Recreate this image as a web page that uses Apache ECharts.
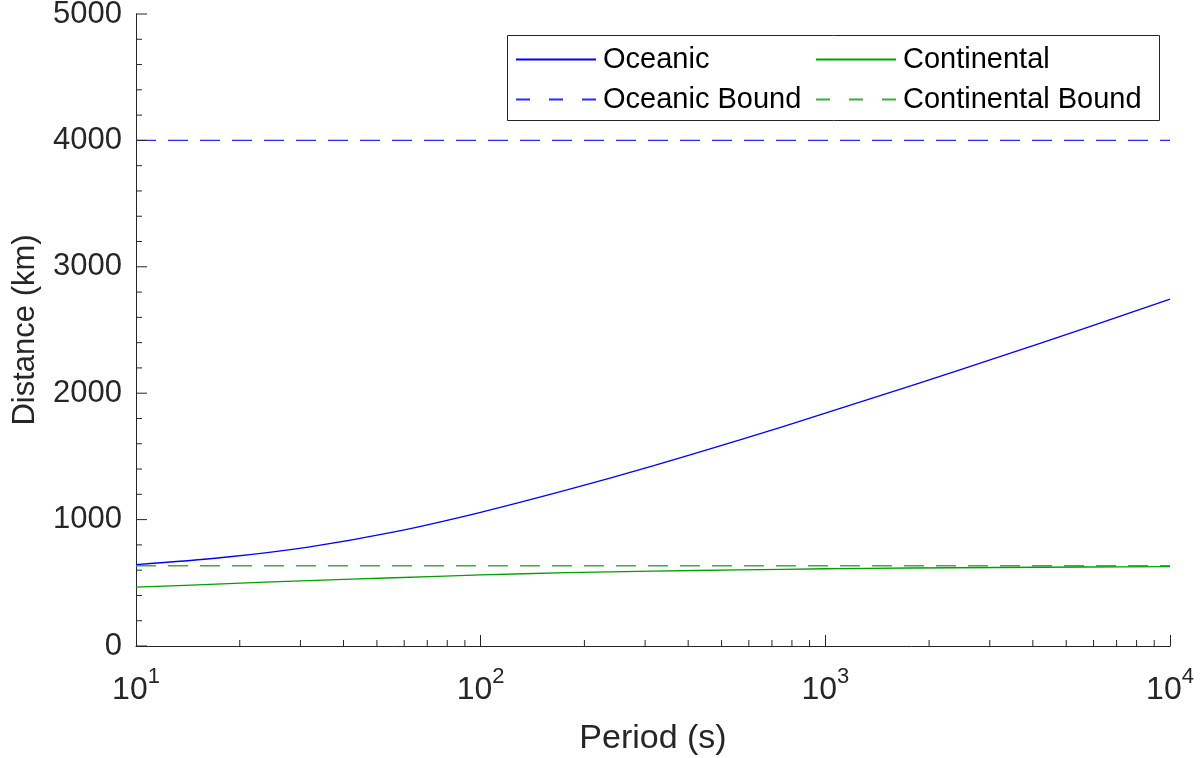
<!DOCTYPE html>
<html>
<head>
<meta charset="utf-8">
<script src="https://cdn.jsdelivr.net/npm/echarts@6/dist/echarts.min.js"></script>
<style>
  html, body { margin: 0; padding: 0; background: #fff; }
  #chart { width: 1202px; height: 758px; }
</style>
</head>
<body>
<div id="chart"></div>
<script>
// Period samples (s), quarter-decade steps
const periods = [10, 17.8, 31.6, 56.2, 100, 178, 316, 562, 1000, 1778, 3162, 5623, 10000];
// Distance (km) for oceanic and continental paths
const oceanic = [643, 700, 783, 903, 1058, 1235, 1425, 1628, 1842, 2060, 2283, 2511, 2745];
const continental = [465, 492, 518, 540, 562, 580, 592, 602, 611, 617, 621, 625, 628];
// Upper bounds, drawn across the full period range
const boundPeriods = [10, 10000];
const oceanicBound = [4000, 4000];
const continentalBound = [635, 635];
// Tick positions: minor ticks on the log period axis, major/minor on the distance axis
const xMinorTicks = [20, 30, 40, 50, 60, 70, 80, 90,
                     200, 300, 400, 500, 600, 700, 800, 900,
                     2000, 3000, 4000, 5000, 6000, 7000, 8000, 9000];
const yMajorTicks = [0, 1000, 2000, 3000, 4000, 5000];
const yMinorTicks = [200, 400, 600, 800, 1200, 1400, 1600, 1800, 2200, 2400, 2600, 2800,
                     3200, 3400, 3600, 3800, 4200, 4400, 4600, 4800];

const axisColor = '#262626';
const font = '"Liberation Sans", Arial, Helvetica, sans-serif';
const dashPlot = [20, 12];
const dashLegend = [14, 19];
const xMin = 10;

const pairs = (xs, ys) => xs.map((x, i) => [x, ys[i]]);

// short inward tick marks drawn from axis values
function tickSeries(data, dx, dy) {
  return {
    type: 'custom',
    silent: true,
    clip: false,
    z: 5,
    data: data,
    renderItem: (params, api) => {
      const p = api.coord([api.value(0), api.value(1)]);
      return {
        type: 'line',
        shape: { x1: p[0], y1: p[1], x2: p[0] + dx, y2: p[1] + dy },
        style: { stroke: axisColor, lineWidth: 1 }
      };
    }
  };
}

const legendBase = {
  orient: 'vertical',
  top: 43,
  padding: 0,
  itemGap: 7,
  itemWidth: 80,
  itemHeight: 2,
  selectedMode: false,
  itemStyle: { opacity: 0 },
  textStyle: { fontFamily: font, fontSize: 29, color: '#000', lineHeight: 33, padding: [0, 0, 0, 2] }
};

const chart = echarts.init(document.getElementById('chart'), null, { renderer: 'canvas' });

chart.setOption({
  animation: false,
  backgroundColor: '#ffffff',
  textStyle: { fontFamily: font },
  grid: { left: 136, right: 32, top: 14, bottom: 112, containLabel: false, outerBoundsMode: 'none' },
  graphic: [{
    type: 'rect',
    z: 0,
    silent: true,
    shape: { x: 507.5, y: 35.5, width: 652, height: 85 },
    style: { fill: '#ffffff', stroke: axisColor, lineWidth: 1 }
  }],
  legend: [
    Object.assign({}, legendBase, {
      left: 515,
      data: [
        { name: 'Oceanic' },
        { name: 'Oceanic Bound', lineStyle: { type: dashLegend } }
      ]
    }),
    Object.assign({}, legendBase, {
      left: 815,
      data: [
        { name: 'Continental' },
        { name: 'Continental Bound', lineStyle: { type: dashLegend } }
      ]
    })
  ],
  xAxis: {
    type: 'log',
    logBase: 10,
    min: xMin,
    max: 10000,
    splitNumber: 3,
    name: 'Period (s)',
    nameLocation: 'middle',
    nameGap: 76,
    nameTextStyle: { fontFamily: font, fontSize: 34, color: axisColor },
    axisLine: { show: true, onZero: false, lineStyle: { color: axisColor, width: 1 } },
    axisTick: { show: true, inside: true, length: 11, lineStyle: { color: axisColor, width: 1 } },
    splitLine: { show: false },
    axisLabel: {
      margin: 20,
      showMinLabel: true,
      showMaxLabel: true,
      formatter: v => '{b|10}{s|' + Math.round(Math.log10(v)) + '}',
      rich: {
        b: { fontFamily: font, fontSize: 32, lineHeight: 40, color: axisColor, verticalAlign: 'bottom' },
        s: { fontFamily: font, fontSize: 22, lineHeight: 22, color: axisColor, verticalAlign: 'top' }
      }
    }
  },
  yAxis: {
    type: 'value',
    min: 0,
    max: 5000,
    interval: 1000,
    name: 'Distance (km)',
    nameLocation: 'middle',
    nameRotate: 90,
    nameGap: 95,
    nameTextStyle: { fontFamily: font, fontSize: 31, color: axisColor },
    axisLine: { show: true, onZero: false, lineStyle: { color: axisColor, width: 1 } },
    axisTick: { show: false },
    minorTick: { show: false },
    splitLine: { show: false },
    minorSplitLine: { show: false },
    axisLabel: { margin: 14, fontFamily: font, fontSize: 31, color: axisColor, formatter: v => String(v) }
  },
  series: [
    {
      name: 'Oceanic', type: 'line', data: pairs(periods, oceanic),
      symbol: 'none', smooth: 0.3, color: '#0000ff',
      lineStyle: { color: '#0000ff', width: 1.3 }, z: 4
    },
    {
      name: 'Continental', type: 'line', data: pairs(periods, continental),
      symbol: 'none', smooth: 0.3, color: '#00a000',
      lineStyle: { color: '#00a000', width: 1.3 }, z: 4
    },
    {
      name: 'Oceanic Bound', type: 'line', data: pairs(boundPeriods, oceanicBound),
      symbol: 'none', color: '#2b2bff',
      lineStyle: { color: '#2b2bff', width: 1.4, type: dashPlot }, z: 3
    },
    {
      name: 'Continental Bound', type: 'line', data: pairs(boundPeriods, continentalBound),
      symbol: 'none', color: '#3aae3a',
      lineStyle: { color: '#3aae3a', width: 1.6, type: dashPlot }, z: 3
    },
    tickSeries(xMinorTicks.map(v => [v, 0]), 0, -6),
    tickSeries(yMajorTicks.map(v => [xMin, v]), 11, 0),
    tickSeries(yMinorTicks.map(v => [xMin, v]), 6, 0)
  ]
});
</script>
</body>
</html>
